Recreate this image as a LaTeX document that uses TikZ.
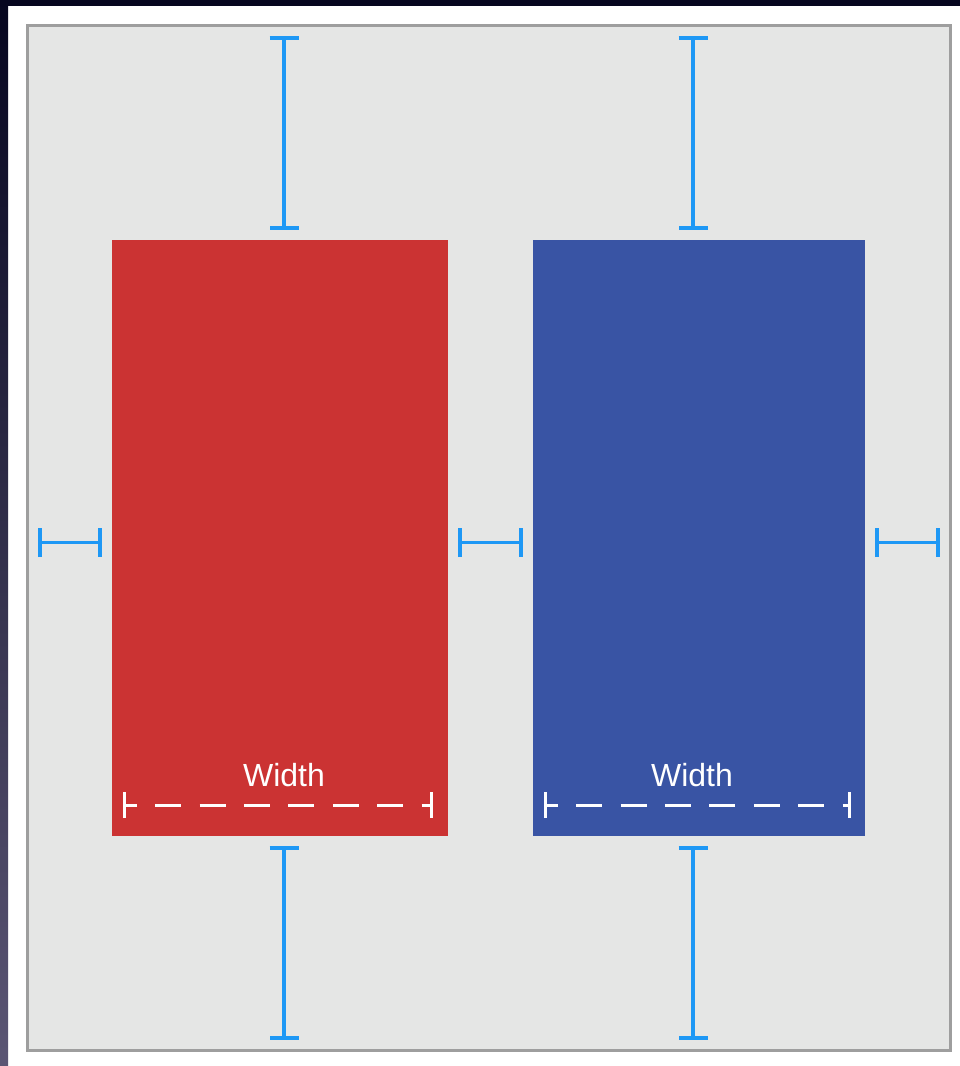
\documentclass[tikz,border=0pt]{standalone}
\usepackage{fontspec}
\setsansfont{Liberation Sans}
\usetikzlibrary{positioning, arrows.meta, calc}

\definecolor{panelgray}{HTML}{E5E6E5}
\definecolor{framegray}{HTML}{9E9E9E}
\definecolor{viewred}{HTML}{CB3333}
\definecolor{viewblue}{HTML}{3954A4}
\definecolor{guidecyan}{HTML}{1E98F5}
\definecolor{edgenavy}{HTML}{06061F}
\definecolor{edgeslate}{HTML}{5B5674}

\begin{document}
\begin{tikzpicture}[
        x=1pt, y=-1pt,
        view/.style={rectangle, inner sep=0pt, outer sep=0pt, minimum height=596pt},
        spacer/.style={{Bar[width=29pt, line width=4pt]}-{Bar[width=29pt, line width=4pt]}, guidecyan, line width=3.5pt, shorten <=10pt, shorten >=10pt},
        measure/.style={{Bar[width=26pt, line width=3pt]}-{Bar[width=26pt, line width=3pt]}, white, line width=3pt, dash pattern=on 26pt off 18.4pt, dash phase=14.5pt},
        caption/.style={text=white, font=\sffamily\fontsize{32}{32}\selectfont, anchor=base}
    ]

    % page and screen edges
    \useasboundingbox (0,0) rectangle (960,1066);
    \fill[white] (0,0) rectangle (960,1066);
    \fill[edgenavy] (0,0) rectangle (960,6);
    \shade[top color=edgenavy, bottom color=edgeslate] (0,0) rectangle (8,1066);

    % container and the two views
    \node[draw=framegray, line width=3pt, fill=panelgray, inner sep=0pt, outer sep=0pt,
          minimum width=922.5pt, minimum height=1024.5pt] (frame) at (488.75,537.75) {};
    \node[view, fill=viewred, minimum width=336pt] (red) at (280,538) {};
    \node[view, fill=viewblue, minimum width=332pt] (blue) at (699,538) {};

    \coordinate (redaxis) at (284,542.5);
    \coordinate (blueaxis) at (693,542.5);

    % vertical spacing
    \draw[spacer] (redaxis |- frame.north) -- (redaxis |- red.north);
    \draw[spacer] (blueaxis |- frame.north) -- (blueaxis |- blue.north);
    \draw[spacer] (redaxis |- red.south) -- (redaxis |- frame.south);
    \draw[spacer] (blueaxis |- blue.south) -- (blueaxis |- frame.south);

    % horizontal spacing
    \draw[spacer] (frame.west |- redaxis) -- (red.west |- redaxis);
    \draw[spacer] (red.east |- redaxis) -- (blue.west |- redaxis);
    \draw[spacer] (blue.east |- redaxis) -- (frame.east |- redaxis);

    % widths
    \node[caption] (redwidth) at (284,786) {Width};
    \node[caption] (bluewidth) at (692,786) {Width};
    \draw[measure] ([xshift=11pt,yshift=31pt]red.south west) -- ([xshift=-15pt,yshift=31pt]red.south east);
    \draw[measure] ([xshift=11pt,yshift=31pt]blue.south west) -- ([xshift=-14pt,yshift=31pt]blue.south east);

\end{tikzpicture}
\end{document}
